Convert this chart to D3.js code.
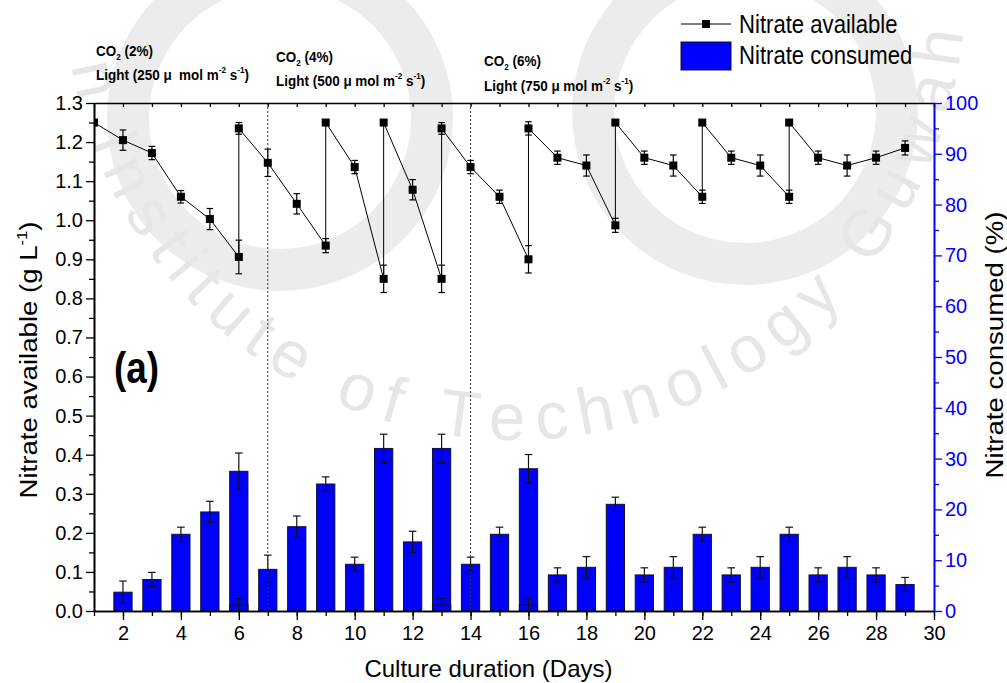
<!DOCTYPE html>
<html>
<head>
<meta charset="utf-8">
<script src="https://cdn.jsdelivr.net/npm/d3@7"></script>
<style>
  html, body { margin: 0; padding: 0; background: #fff; }
  svg { display: block; font-family: "Liberation Sans", Arial, Helvetica, sans-serif; }
</style>
</head>
<body>
<svg id="chart" width="1007" height="683"></svg>
<script>
// ---- data -------------------------------------------------------------
// Nitrate consumed (%) per day, with standard deviation
const barDays     = [2, 3, 4, 5, 6, 7, 8, 9, 10, 11, 12, 13, 14, 15, 16, 17, 18, 19, 20, 21, 22, 23, 24, 25, 26, 27, 28, 29];
const consumedPct = [3.7, 6.2, 15.1, 19.5, 27.5, 8.2, 16.6, 25.0, 9.2, 32.0, 13.6, 32.0, 9.2, 15.1, 28.0, 7.1, 8.6, 21.0, 7.1, 8.6, 15.1, 7.1, 8.6, 15.1, 7.1, 8.6, 7.1, 5.2];
const consumedErr = [2.2, 1.4, 1.4, 2.1, 3.6, 2.8, 2.1, 1.4, 1.4, 2.8, 2.1, 2.8, 1.4, 1.4, 2.8, 1.4, 2.1, 1.4, 1.4, 2.1, 1.4, 1.4, 2.1, 1.4, 1.4, 2.1, 1.4, 1.4];

// residual consumption right after replenishing the medium
const refillDays = [6, 13, 16];
const refillPct  = [1.2, 1.2, 1.2];
const refillErr  = [1.3, 1.3, 1.3];

// Nitrate available (g/L); replenishment days appear twice (before / after feeding)
const availDays = [1, 2, 3, 4, 5, 6, 6, 7, 8, 9, 9, 10, 11, 11, 12, 13, 13, 14, 15, 16, 16, 17, 18, 19, 19, 20, 21, 22, 22, 23, 24, 25, 25, 26, 27, 28, 29];
const availVals = [1.25, 1.205, 1.172, 1.06, 1.003, 0.906, 1.235, 1.147, 1.042, 0.935, 1.25, 1.136, 0.85, 1.25, 1.078, 0.85, 1.235, 1.136, 1.06, 0.90, 1.235, 1.16, 1.14, 0.987, 1.25, 1.16, 1.14, 1.06, 1.25, 1.16, 1.14, 1.06, 1.25, 1.16, 1.14, 1.16, 1.185];
const availErr  = [0, 0.026, 0.017, 0.016, 0.027, 0.043, 0.015, 0.035, 0.026, 0.018, 0, 0.017, 0.035, 0, 0.026, 0.035, 0.015, 0.017, 0.017, 0.035, 0.017, 0.017, 0.027, 0.018, 0, 0.017, 0.027, 0.017, 0, 0.017, 0.027, 0.017, 0, 0.017, 0.027, 0.017, 0.018];

// phase boundaries (days) and their culture conditions
const phaseLines = [7, 14];
const phaseCO2   = ["2%", "4%", "6%"];
const phaseLight = ["250 \u03BC\u00A0 mol m", "500 \u03BC mol m", "750 \u03BC mol m"];

// axis ticks
const xMajorTicks = [2, 4, 6, 8, 10, 12, 14, 16, 18, 20, 22, 24, 26, 28, 30];
const leftTicks   = [0.0, 0.1, 0.2, 0.3, 0.4, 0.5, 0.6, 0.7, 0.8, 0.9, 1.0, 1.1, 1.2, 1.3];
const rightTicks  = [0, 10, 20, 30, 40, 50, 60, 70, 80, 90, 100];

// ---- layout -----------------------------------------------------------
const W = 1007, H = 683;
const P = { left: 94, right: 934, top: 103, bottom: 611 };
const BLUE = "#0000ff";

const svg = d3.select("#chart");
const defs = svg.append("defs");

const x  = d3.scaleLinear().domain([1, 30]).range([P.left, P.right]);
const yL = d3.scaleLinear().domain([0, 1.3]).range([P.bottom, P.top]);
const yR = d3.scaleLinear().domain([0, 100]).range([P.bottom, P.top]);

// text drawn with a slight horizontal condensation
function condText(parent, px, py, size, sx) {
  return parent.append("text")
    .attr("transform", `translate(${px},${py}) scale(${sx},1)`)
    .attr("font-size", size);
}

// ---- faint institutional seal in the background -----------------------
const seal = svg.append("g").attr("class", "seal");
const sealGrey = "#e6e6e6";
seal.append("circle").attr("cx", 280).attr("cy", 118).attr("r", 152)
  .attr("fill", "none").attr("stroke", "#ececec").attr("stroke-width", 42);
seal.append("circle").attr("cx", 745).attr("cy", 112).attr("r", 152)
  .attr("fill", "none").attr("stroke", "#ececec").attr("stroke-width", 42);
{
  const sealText = "Indian Institute of Technology Guwahati";
  const cx = 515, cy = -10, r = 450, a0 = 196, a1 = -8, fs = 66;
  const meas = svg.append("text").attr("font-size", fs).attr("visibility", "hidden");
  const chars = [...sealText];
  const widths = chars.map(ch => {
    meas.text(ch === " " ? "\u00A0" : ch);
    return meas.node().getComputedTextLength();
  });
  meas.remove();
  const arcLen = r * (a0 - a1) * Math.PI / 180;
  const gap = (arcLen - d3.sum(widths)) / (chars.length - 1);
  let s = 0;
  chars.forEach((ch, i) => {
    const mid = s + widths[i] / 2;
    s += widths[i] + gap;
    if (ch === " ") return;
    const th = (a0 * Math.PI / 180) - mid / r;
    const px = cx + r * Math.cos(th), py = cy + r * Math.sin(th);
    if (py < 38 || px < 10 || px > W - 10) return;
    const rot = Math.atan2(-Math.cos(th), Math.sin(th)) * 180 / Math.PI;
    seal.append("text")
      .attr("transform", `translate(${px},${py}) rotate(${rot})`)
      .attr("text-anchor", "middle").attr("font-size", fs).attr("fill", sealGrey)
      .text(ch);
  });
}

// ---- clip for plot contents -------------------------------------------
defs.append("clipPath").attr("id", "plotClip")
  .append("rect").attr("x", P.left).attr("y", P.top - 20)
  .attr("width", P.right - P.left).attr("height", P.bottom - P.top + 20);

const plot = svg.append("g").attr("clip-path", "url(#plotClip)");

// ---- bars (right axis) --------------------------------------------------
const barW = x(1.63) - x(1);
const bars = barDays.map((d, i) => ({ d, v: consumedPct[i], e: consumedErr[i] }));
const refill = refillDays.map((d, i) => ({ d, v: refillPct[i], e: refillErr[i] }));

function drawBars(g, data) {
  g.selectAll(null).data(data).enter().append("rect")
    .attr("x", p => x(p.d) - barW / 2)
    .attr("y", p => yR(p.v))
    .attr("width", barW)
    .attr("height", p => yR(0) - yR(p.v))
    .attr("fill", BLUE).attr("stroke", "#101030").attr("stroke-width", 1);
}
function drawErr(g, data, y, cap, color) {
  const eb = g.selectAll(null).data(data.filter(p => p.e > 0)).enter().append("g")
    .attr("stroke", color).attr("stroke-width", 1.2);
  eb.append("line").attr("x1", p => x(p.d)).attr("x2", p => x(p.d))
    .attr("y1", p => y(p.v - p.e)).attr("y2", p => y(p.v + p.e));
  eb.append("line").attr("x1", p => x(p.d) - cap).attr("x2", p => x(p.d) + cap)
    .attr("y1", p => y(p.v + p.e)).attr("y2", p => y(p.v + p.e));
  eb.append("line").attr("x1", p => x(p.d) - cap).attr("x2", p => x(p.d) + cap)
    .attr("y1", p => y(p.v - p.e)).attr("y2", p => y(p.v - p.e));
}
const barG = plot.append("g");
drawBars(barG, bars);
drawErr(barG, bars, yR, 3.8, "#111");
drawBars(barG, refill);
drawErr(barG, refill, yR, 3.8, "#111");

// ---- phase separators ---------------------------------------------------
plot.selectAll(null).data(phaseLines).enter().append("line")
  .attr("x1", d => x(d)).attr("x2", d => x(d))
  .attr("y1", P.top).attr("y2", P.bottom)
  .attr("stroke", "#333").attr("stroke-width", 1).attr("stroke-dasharray", "2,2");

// ---- nitrate available line (left axis) -------------------------------
const pts = availDays.map((d, i) => ({ d, v: availVals[i], e: availErr[i] }));
plot.append("path").datum(pts)
  .attr("fill", "none").attr("stroke", "#000").attr("stroke-width", 1)
  .attr("d", d3.line().x(p => x(p.d)).y(p => yL(p.v)));
drawErr(plot, pts, yL, 3.3, "#000");
plot.selectAll(null).data(pts).enter().append("rect")
  .attr("x", p => x(p.d) - 4).attr("y", p => yL(p.v) - 4)
  .attr("width", 8).attr("height", 8).attr("fill", "#000");

// ---- axes ---------------------------------------------------------------
const tickFont = 20;
function styleAxis(g, color) {
  g.selectAll("path.domain").attr("stroke", color).attr("stroke-width", 1.6);
  g.selectAll(".tick line").attr("stroke", color).attr("stroke-width", 1.3);
  g.selectAll(".tick text").attr("fill", color).attr("font-size", tickFont)
    .attr("font-family", "Liberation Sans, Arial, sans-serif");
}

// bottom: minor every day, labelled major every 2 days
const xMinor = svg.append("g").attr("transform", `translate(0,${P.bottom})`)
  .call(d3.axisBottom(x).tickValues(d3.range(1, 31)).tickSize(5).tickSizeOuter(0).tickFormat(""));
styleAxis(xMinor, "#000");
const xMajor = svg.append("g").attr("transform", `translate(0,${P.bottom})`)
  .call(d3.axisBottom(x).tickValues(xMajorTicks).tickSize(9).tickSizeOuter(0).tickPadding(6).tickFormat(d3.format("d")));
styleAxis(xMajor, "#000");

// top frame with small inward ticks
const xTop = svg.append("g").attr("transform", `translate(0,${P.top})`)
  .call(d3.axisTop(x).tickValues(d3.range(1, 31)).tickSize(-4).tickSizeOuter(0).tickFormat(""));
styleAxis(xTop, "#000");

// left axis
const lMinor = svg.append("g").attr("transform", `translate(${P.left},0)`)
  .call(d3.axisLeft(yL).tickValues(d3.range(0.05, 1.3, 0.1)).tickSize(5).tickSizeOuter(0).tickFormat(""));
styleAxis(lMinor, "#000");
const lMajor = svg.append("g").attr("transform", `translate(${P.left},0)`)
  .call(d3.axisLeft(yL).tickValues(leftTicks).tickSize(8).tickSizeOuter(0).tickPadding(3).tickFormat(d3.format(".1f")));
styleAxis(lMajor, "#000");

// right axis (blue)
const rMinor = svg.append("g").attr("transform", `translate(${P.right},0)`)
  .call(d3.axisRight(yR).tickValues(d3.range(5, 100, 10)).tickSize(5).tickSizeOuter(0).tickFormat(""));
styleAxis(rMinor, BLUE);
const rMajor = svg.append("g").attr("transform", `translate(${P.right},0)`)
  .call(d3.axisRight(yR).tickValues(rightTicks).tickSize(8).tickSizeOuter(0).tickPadding(3).tickFormat(d3.format("d")));
styleAxis(rMajor, BLUE);

// ---- axis titles --------------------------------------------------------
function supText(sel, parts, baseSize) {
  // parts: [text, "n" | "sup" | "sub"]
  let shift = 0;
  parts.forEach(([t, kind]) => {
    const target = kind === "sup" ? -0.42 * baseSize : kind === "sub" ? 0.25 * baseSize : 0;
    sel.append("tspan")
      .attr("dy", target - shift)
      .attr("font-size", kind === "n" ? baseSize : baseSize * 0.6)
      .text(t);
    shift = target;
  });
}

svg.append("text")
  .attr("x", (362 + 615) / 2).attr("y", 677)
  .attr("text-anchor", "middle").attr("font-size", 24)
  .text("Culture duration (Days)");

const leftTitle = svg.append("text")
  .attr("transform", `translate(37,360) rotate(-90) scale(1.15,1)`)
  .attr("text-anchor", "middle").attr("font-size", 24);
supText(leftTitle, [["Nitrate available (g L", "n"], ["-1", "sup"], [")", "n"]], 24);

svg.append("text")
  .attr("transform", `translate(1003,345) rotate(-90) scale(1.15,1)`)
  .attr("text-anchor", "middle").attr("font-size", 24).attr("fill", "#000")
  .text("Nitrate consumed (%)");

// panel letter
condText(svg, 114, 383, 45, 0.82).attr("font-weight", "bold").text("(a)");

// ---- phase annotations ------------------------------------------------
const annX  = [96, 276, 484];
const annY1 = [56, 62, 66];
const annY2 = [80, 86, 91];
const annSize = 15.5;
phaseCO2.forEach((c, i) => {
  const t1 = condText(svg, annX[i], annY1[i], annSize, 0.87).attr("font-weight", "bold");
  supText(t1, [["CO", "n"], ["2", "sub"], [` (${c})`, "n"]], annSize);
  const t2 = condText(svg, annX[i], annY2[i], annSize, 0.87).attr("font-weight", "bold");
  supText(t2, [[`Light (${phaseLight[i]}`, "n"], ["-2", "sup"], [" s", "n"], ["-1", "sup"], [")", "n"]], annSize);
});

// ---- legend -------------------------------------------------------------
const leg = svg.append("g");
leg.append("line").attr("x1", 681).attr("x2", 731).attr("y1", 24).attr("y2", 24)
  .attr("stroke", "#000").attr("stroke-width", 1);
leg.append("rect").attr("x", 702).attr("y", 20).attr("width", 8).attr("height", 8).attr("fill", "#000");
condText(leg, 739, 33, 25, 0.885).text("Nitrate available");
leg.append("rect").attr("x", 681).attr("y", 42).attr("width", 50).attr("height", 28)
  .attr("fill", BLUE).attr("stroke", "#101030").attr("stroke-width", 1);
condText(leg, 739, 64, 25, 0.885).text("Nitrate consumed");
</script>
</body>
</html>
